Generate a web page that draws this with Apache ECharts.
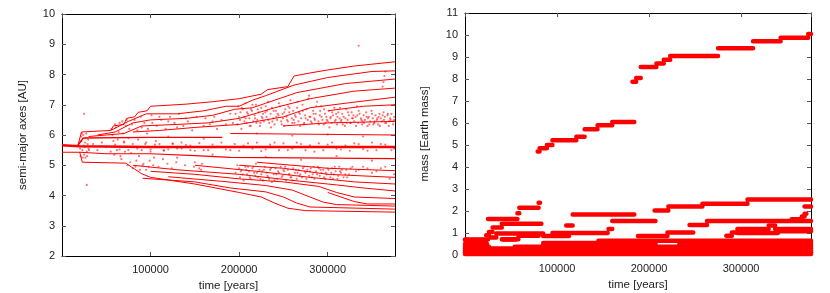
<!DOCTYPE html>
<html><head><meta charset="utf-8">
<script src="https://cdn.jsdelivr.net/npm/echarts@6/dist/echarts.min.js"></script>
<style>html,body{margin:0;padding:0;background:#fff}#c{width:830px;height:293px}</style>
</head><body><div id="c"></div>
<script>
// ---------- LEFT: semi-major axis tracks [time, AU] ----------
const aCentral = [[0,5.66],[20000,5.63],[100000,5.6],[376000,5.6]];
const aLine542 = [[0,5.43],[20000,5.43],[50000,5.38],[100000,5.38],[150000,5.32],[190000,5.26],[376000,5.22]];
const aLine59  = [[18000,5.66],[24000,5.9],[100000,5.92],[181000,5.92]];
const aTop = [[18000,5.66],[22000,6.1],[55000,6.15],[58000,6.3],[70000,6.35],[73000,6.55],[82000,6.6],[86000,6.75],[96000,6.8],[100000,6.95],[140000,7.02],[170000,7.1],[200000,7.2],[225000,7.35],[232000,7.5],[255000,7.6],[262000,7.95],[280000,8.05],[300000,8.15],[330000,8.28],[376000,8.42]];
const aUpper = [
  [[55000,6.15],[75000,6.45],[95000,6.7],[130000,6.7],[160000,6.8],[185000,6.95],[200000,6.95],[215000,7.15],[230000,7.3],[262000,7.65],[300000,7.9],[350000,8.1],[376000,8.12]],
  [[40000,6.0],[60000,6.1],[80000,6.4],[100000,6.5],[140000,6.55],[170000,6.65],[195000,6.85],[215000,6.9],[230000,7.05],[265000,7.4],[320000,7.7],[376000,7.85]],
  [[30000,5.95],[70000,6.05],[90000,6.3],[130000,6.35],[165000,6.4],[200000,6.55],[240000,6.9],[280000,7.2],[330000,7.45],[376000,7.55]],
  [[80000,6.1],[110000,6.15],[150000,6.25],[200000,6.35],[250000,6.6],[280000,6.9],[320000,7.05],[376000,7.25]],
  [[190000,6.05],[376000,6.0]],
  [[300000,6.8],[340000,6.95],[376000,7.0]],
  [[250000,6.3],[300000,6.4],[376000,6.45]]
];
const aLower = [
  [[20000,5.43],[23000,5.1],[72000,5.07],[78000,4.95],[90000,4.72],[100000,4.6],[150000,4.38],[200000,4.1],[225000,3.95],[240000,3.75],[255000,3.58],[275000,3.5],[376000,3.45]],
  [[91000,4.57],[150000,4.45],[190000,4.25],[230000,4.12],[250000,3.95],[265000,3.75],[280000,3.62],[376000,3.55]],
  [[120000,4.62],[180000,4.47],[230000,4.33],[260000,4.18],[280000,3.95],[295000,3.78],[310000,3.7],[376000,3.65]],
  [[100000,4.8],[150000,4.7],[200000,4.55],[250000,4.45],[290000,4.3],[310000,4.1],[330000,3.95],[376000,3.9]],
  [[80000,5.0],[130000,4.85],[200000,4.7],[260000,4.5],[310000,4.35],[340000,4.25],[376000,4.15]],
  [[150000,5.0],[220000,4.8],[280000,4.6],[330000,4.45],[376000,4.38]],
  [[200000,5.0],[250000,4.9],[300000,4.7],[376000,4.6]],
  [[220000,5.1],[300000,4.9],[376000,4.82]],
  [[300000,4.1],[330000,3.8],[345000,3.72],[376000,3.72]]
];
// scattered points (time, AU)
const aCloudEarly = [[21000,5.3],[22000,5.8],[23000,5.5],[24000,6.0],[25000,5.35],[26000,5.75],[27000,5.9],[28000,5.45],[24500,5.65],[26500,5.25],[22500,6.05],[29000,5.7],[28000,4.35],[25000,6.7],
  [20500,5.55],[21500,5.95],[23500,5.25],[25500,5.6],[27500,6.05],[28500,5.3],[29500,5.85],[30500,5.5],
  [56000,6.2],[58000,5.8],[60000,6.35],[62000,5.5],[64000,6.1],[66000,5.3],[68000,6.45],[70000,5.75],[72000,6.3],[74000,5.0],[76000,6.2],[78000,5.4],[80000,4.9],[82000,6.5],[84000,5.15],[86000,5.85],[88000,4.85],[90000,6.25],[92000,5.05],[94000,5.7],[96000,6.05],[98000,4.95],[100000,5.45],[102000,6.4],[104000,5.25],[106000,5.8],[110000,6.6],[115000,5.5],[120000,6.45],[125000,5.7],[130000,6.25],[135000,5.55],[140000,6.55],[145000,5.65],[150000,5.1],[155000,4.9],[158000,5.05],[160000,6.3],[165000,5.5],[170000,6.45],
  [57000,6.0],[59000,5.35],[61000,6.25],[63000,5.85],[65000,6.4],[67000,5.2],[69000,6.05],[71000,5.45],[73000,6.5],[75000,5.9],[77000,5.1],[79000,6.35],[81000,5.6],[83000,4.95],[85000,6.15],[87000,5.3],[89000,6.6],[91000,5.0],[93000,6.4],[95000,4.85],[97000,6.2],[99000,5.15],[101000,6.65],[103000,5.0],[107000,6.3],[109000,4.95],[112000,6.5],[114000,5.2],[117000,6.2],[119000,5.05],[122000,6.6],[124000,4.9],[127000,6.4],[129000,5.1],[132000,6.7],[137000,6.3],[139000,5.0],[142000,6.45],[147000,6.15],[149000,4.95],[152000,6.6],[157000,4.85],[162000,6.55],[167000,6.35],[172000,6.6],[175000,6.2],[180000,6.5],[185000,6.35],[190000,6.7],[193000,6.4]];
const aCloudMid = [[90000,5.5],[110000,5.7],[120000,5.52],[135000,5.75],[150000,5.48],[170000,5.68],[190000,5.5],[210000,5.72],[225000,5.47],[240000,5.75],[255000,5.5],[270000,5.7],[285000,5.45],[300000,5.68],[315000,5.52],[330000,5.72],[345000,5.48],[360000,5.7],[372000,5.5],[335000,8.95],
  [30000,5.55],[35000,5.7],[40000,5.5],[45000,5.75],[50000,5.6],[55000,5.45],[60000,5.68],[65000,5.52],[70000,5.78],[75000,5.5],[80000,5.7],[85000,5.55],[95000,5.75],[100000,5.52],[105000,5.68],[115000,5.48],[125000,5.72],[130000,5.55],[140000,5.67],[145000,5.5],[155000,5.73],[160000,5.5],[175000,5.62],[180000,5.75],[185000,5.52],[195000,5.7],[200000,5.48],[205000,5.65],[215000,5.55],[220000,5.75],[230000,5.52],[235000,5.68],[245000,5.5],[250000,5.72],[260000,5.55],[265000,5.75],[275000,5.5],[280000,5.66],[290000,5.72],[295000,5.5],[305000,5.75],[310000,5.55],[320000,5.65],[325000,5.48],[335000,5.7],[340000,5.53],[350000,5.75],[355000,5.5],[365000,5.68],[375000,5.55],
  [120000,5.95],[160000,5.88],[220000,6.05],[260000,5.98],[300000,6.02],[340000,5.95],[230000,5.28],[270000,5.18],[310000,5.3],[350000,5.15],[130000,5.25],[170000,5.35]];
const aCloudUpper = [[200000,6.6],[203000,6.9],[206000,6.45],[209000,6.75],[212000,6.3],[215000,7.0],[218000,6.55],[221000,6.85],[224000,6.4],[227000,6.7],[230000,6.95],[233000,6.5],[236000,6.25],[239000,6.8],[242000,6.6],[245000,7.05],[248000,6.35],[251000,6.75],[254000,6.5],[257000,6.9],[260000,6.4],[263000,6.65],[266000,7.1],[269000,6.3],[272000,6.8],[275000,6.55],[278000,7.2],[281000,6.45],[284000,6.7],[287000,6.95],[290000,6.35],[293000,6.6],[296000,6.85],[299000,6.5],[302000,6.25],[305000,6.75],[308000,6.45],[311000,6.6],[314000,6.9],[317000,6.35],[320000,6.55],[323000,6.75],[326000,6.4],[329000,6.65],[332000,6.3],[335000,6.8],[338000,6.5],[341000,6.4],[344000,6.6],[347000,6.35],[350000,6.7],[353000,6.45],[356000,6.55],[359000,6.3],[362000,6.65],[365000,6.4],[368000,6.7],[371000,6.5],[374000,6.35],
  [201500,6.75],[207500,6.55],[213500,6.85],[219500,6.4],[225500,6.6],[231500,6.8],[237500,6.45],[243500,6.7],[249500,6.55],[255500,6.95],[261500,6.5],[267500,6.75],[273500,6.4],[279500,6.6],[285500,6.5],[291500,6.8],[297500,6.4],[303500,6.6],[309500,6.7],[315500,6.5],[321500,6.4],[327500,6.55],[333500,6.65],[339500,6.45],[345500,6.55],[351500,6.35],[357500,6.6],[363500,6.5],[369500,6.45],[375000,6.6],
  [362000,7.6],[363000,7.75],[364000,7.95],[365000,8.1]];
const aCloudUpper2 = [[196000,6.7],[198000,6.35],[199000,6.95],[201000,6.5],[202500,6.2],[204000,6.85],[205500,6.6],[207000,7.05],[208500,6.4],[210000,6.7],[211500,6.55],[213000,6.3],[214500,6.8],[216000,6.45],[217500,6.65],[219000,7.0],[220500,6.5],[222000,6.75],[223500,6.3],[225000,6.9],[226500,6.55],[228000,6.45],[229500,6.75],[231000,6.6],[232500,7.1],[234000,6.4],[235500,6.7],[237000,6.9],[238500,6.55],[240000,6.35],[241500,6.8],[243000,6.5],[244500,6.65],[246000,6.95],[247500,6.45],[249000,6.7],[250500,6.3],[252000,6.85],[253500,6.6],[255000,6.45],[256500,6.75],[258000,7.15],[259500,6.55],[261000,6.8],[262500,6.4],[264000,6.6],[265500,6.9],[267000,6.45],[268500,6.7],[270000,6.55],[271500,7.0],[273000,6.35],[274500,6.65],[276000,6.85],[277500,6.5],[279000,7.3],[280500,6.6],[282000,6.4],[283500,6.8],[285000,6.55],[286500,6.7],[288000,7.1],[289500,6.45],[291000,6.65],[292500,6.95],[294000,6.5],[295500,6.35],[297000,6.7],[298500,6.6],[300000,6.45],[301500,6.8],[303000,6.55],[304500,6.4],[306000,6.65],[307500,6.9],[309000,6.5],[310500,6.35],[312000,6.75],[313500,6.55],[315000,6.45],[316500,6.7],[318000,6.6],[319500,6.3],[321000,6.85],[322500,6.5],[324000,6.65],[325500,6.4],[327000,6.75],[328500,6.55],[330000,6.45],[331500,6.6],[333000,6.95],[334500,6.4],[336000,6.7],[337500,6.55],[339000,6.35],[340500,6.65],[342000,6.5],[343500,6.75],[345000,6.3],[346500,6.6],[348000,6.45],[349500,6.8],[351000,6.55],[352500,6.4],[354000,6.65],[355500,6.5],[357000,6.35],[358500,6.7],[360000,6.55],[361500,6.45],[363000,6.75],[364500,6.6],[366000,6.4],[367500,6.65],[369000,6.3],[370500,6.55],[372000,6.7],[373500,6.45],[375000,6.5]];
const aCloudLower = [[200000,4.9],[204000,4.7],[208000,4.85],[212000,4.6],[216000,4.95],[220000,4.75],[224000,4.55],[228000,4.85],[232000,4.65],[236000,4.9],[240000,4.5],[244000,4.8],[248000,4.6],[252000,4.95],[256000,4.7],[260000,4.5],[264000,4.85],[268000,4.65],[272000,4.9],[276000,4.55],[280000,4.8],[284000,4.95],[288000,4.7],[292000,4.85],[296000,4.6],[300000,4.9],[304000,4.75],[308000,4.95],[312000,4.65],[316000,4.85],[320000,4.7],[326000,4.9],[332000,4.8],[340000,4.95],[350000,4.75],[360000,4.9],[370000,4.55],
  [202000,4.8],[210000,4.95],[218000,4.65],[226000,4.8],[234000,4.55],[242000,4.7],[250000,4.85],[258000,4.6],[266000,4.75],[274000,4.8],[282000,4.6],[290000,4.9],[298000,4.75],[306000,4.55],[314000,4.8],[322000,4.6],
  [196000,4.75],[198000,5.0],[201000,4.6],[203000,4.85],[205000,4.5],[207000,4.95],[209000,4.7],[211000,4.8],[213000,4.55],[215000,4.9],[217000,4.75],[219000,5.05],[221000,4.6],[223000,4.85],[225000,4.7],[227000,4.5],[229000,4.95],[231000,4.75],[233000,4.6],[235000,4.85],[237000,4.45],[239000,4.7],[241000,4.9],[243000,4.55],[245000,4.75],[247000,4.95],[249000,4.65],[251000,4.8],[253000,4.5],[255000,4.85],[257000,4.7],[259000,4.6],[261000,4.9],[263000,4.75],[265000,4.55],[267000,4.85],[269000,4.7],[271000,4.6],[273000,4.95],[275000,4.75],[277000,4.85],[279000,4.65],[281000,4.9],[283000,4.7],[285000,4.55],[287000,4.8],[289000,4.95],[291000,4.65],[293000,4.75],[295000,4.85],[297000,4.55],[299000,4.7],[301000,4.85],[303000,4.6],[305000,4.9],[307000,4.7],[309000,4.8],[311000,4.55],[313000,4.95],[315000,4.75],[318000,4.6],[321000,4.85],[324000,4.7],[328000,4.95],[335000,4.85],[345000,4.9],[355000,4.8],[365000,4.95],[375000,4.7]];

// ---------- RIGHT: mass tracks [time, mass held until next time] ----------
const mGiantA = [[79000,4.7],[81000,4.85],[89000,5.0],[95000,5.22],[121000,5.38],[130000,5.72],[144000,5.9],[160000,6.05],[184000,6.05]];
const mGiantB = [[182000,7.87],[186000,8.04],[191000,8.54],[208000,8.7],[216000,8.88],[223000,9.05],[275000,9.4],[313000,9.72],[343000,9.88],[373000,10.05],[376000,10.05]];
const mMid = [
  [[25000,1.64],[57000,1.9],[59000,2.15],[80000,2.15]],
  [[80000,2.38],[81500,2.38]],
  [[110000,1.34],[117000,1.84],[184000,1.84]],
  [[156000,1.18],[160000,1.54],[207000,1.54]],
  [[206000,2.02],[221000,2.2],[258000,2.33],[307000,2.52],[376000,2.52]],
  [[244000,1.36],[263000,1.54],[376000,1.54]],
  [[355000,1.62],[366000,1.75],[369000,1.88],[371000,1.88]],
  [[369000,2.2],[376000,2.2]],
  [[284000,0.88],[290000,1.02],[296000,1.18],[330000,1.34],[337000,1.18],[376000,1.18]],
  [[296000,1.0],[340000,1.08],[376000,1.08]],
  [[188000,0.86],[220000,1.02],[248000,1.02]],
  [[95000,1.0],[155000,1.0]],
  [[0,0.68],[23000,0.9],[26000,1.05],[30000,1.25],[40000,1.42],[83000,1.42]],
  [[28000,0.8],[34000,0.98],[83000,0.98],[85000,0.86],[113000,0.86]],
  [[40000,0.72],[55000,0.72],[58000,0.88],[80000,0.88]]
];
const mBlock = [
  [[0,0.05],[376000,0.05]],
  [[0,0.13],[376000,0.13]],
  [[0,0.21],[376000,0.21]],
  [[0,0.29],[376000,0.29]],
  [[0,0.37],[26000,0.37]],
  [[54000,0.37],[376000,0.37]],
  [[0,0.5],[24000,0.5]],
  [[85000,0.45],[207000,0.45]],
  [[233000,0.45],[376000,0.45]],
  [[85000,0.55],[207000,0.55]],
  [[233000,0.55],[376000,0.55]],
  [[145000,0.65],[376000,0.65]],
  [[0,0.7],[25000,0.7]],
  [[41000,0.7],[55000,0.7]]
];

const RED = '#ff0000';
function holdSegments(track){
  const out=[];
  for(let i=0;i<track.length-1;i++){
    out.push([track[i][0],track[i][1]],[track[i+1][0],track[i][1]],[track[i+1][0],'-']);
  }
  return out;
}
const series=[];
function addLine(data,width){
  series.push({type:'line',xAxisIndex:0,yAxisIndex:0,data:data,symbol:'none',silent:true,
    lineStyle:{color:RED,width:width},animation:false});
}
addLine(aCentral,2.5);
addLine(aLine542,1.2);
addLine(aLine59,1.4);
addLine(aTop,1);
aUpper.forEach(t=>addLine(t,1));
aLower.forEach(t=>addLine(t,1));
[aCloudEarly,aCloudMid,aCloudUpper,aCloudUpper2,aCloudLower].forEach(c=>{
  series.push({type:'scatter',xAxisIndex:0,yAxisIndex:0,data:c,symbolSize:2.2,silent:true,
    itemStyle:{color:'rgba(255,0,0,0.7)'},animation:false});
});
function addMass(track){
  series.push({type:'line',xAxisIndex:2,yAxisIndex:2,data:holdSegments(track),symbol:'none',silent:true,
    connectNulls:false,lineStyle:{color:RED,width:4.5,cap:'round',join:'round'},animation:false});
}
mBlock.forEach(addMass);
mMid.forEach(addMass);
addMass(mGiantA);
addMass(mGiantB);

const FONT='Liberation Sans';
const labelStyle={fontFamily:FONT,fontSize:11,color:'#222'};
const plain = v => String(v);
function xAxes(gi){
  return [
    {type:'value',gridIndex:gi,position:'bottom',min:0,max:376000,interval:100000,
     axisLine:{show:true,onZero:false,lineStyle:{color:'#000',width:1}},
     axisTick:{show:true,inside:true,length:4,lineStyle:{color:'#555'}},
     axisLabel:Object.assign({showMinLabel:false,showMaxLabel:false,margin:8,formatter:plain},labelStyle),
     splitLine:{show:false},
     name:'time [years]',nameLocation:'middle',nameGap:24,nameTextStyle:{fontFamily:FONT,fontSize:11.5,color:'#222'}},
    {type:'value',gridIndex:gi,position:'top',min:0,max:376000,interval:100000,
     axisLine:{show:true,onZero:false,lineStyle:{color:'#000',width:1}},
     axisTick:{show:true,inside:true,length:4,lineStyle:{color:'#555'}},
     axisLabel:{show:false},splitLine:{show:false}}
  ];
}
function yAxes(gi,min,max,name,gap){
  return [
    {type:'value',gridIndex:gi,position:'left',min:min,max:max,interval:1,
     axisLine:{show:true,onZero:false,lineStyle:{color:'#000',width:1}},
     axisTick:{show:true,inside:true,length:4,lineStyle:{color:'#555'}},
     axisLabel:Object.assign({margin:7,formatter:plain},labelStyle),splitLine:{show:false},
     name:name,nameLocation:'middle',nameGap:gap,nameTextStyle:{fontFamily:FONT,fontSize:11.5,color:'#222'}},
    {type:'value',gridIndex:gi,position:'right',min:min,max:max,interval:1,
     axisLine:{show:true,onZero:false,lineStyle:{color:'#000',width:1}},
     axisTick:{show:true,inside:true,length:4,lineStyle:{color:'#555'}},
     axisLabel:{show:false},splitLine:{show:false}}
  ];
}
const chart=echarts.init(document.getElementById('c'),null,{renderer:'canvas'});
chart.setOption({
  animation:false,
  backgroundColor:'#fff',
  grid:[{left:62,top:14,width:333,height:242,outerBoundsMode:'none',containLabel:false},
        {left:465,top:13,width:346,height:242,outerBoundsMode:'none',containLabel:false}],
  xAxis:[...xAxes(0),...xAxes(1)],
  yAxis:[...yAxes(0,2,10,'semi-major axes [AU]',33),...yAxes(1,0,11,'mass [Earth mass]',34)],
  series:series
});
</script></body></html>
